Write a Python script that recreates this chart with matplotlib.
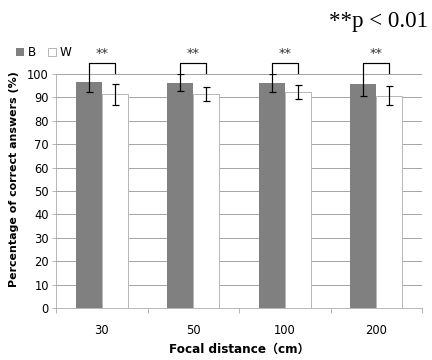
import matplotlib.pyplot as plt
import numpy as np

plt.rcParams['font.family'] = ['DejaVu Sans', 'Noto Sans CJK JP']

distances = ['30', '50', '100', '200']
b_mean = [96.6, 96.3, 96.1, 95.8]
b_err = [4.3, 3.7, 3.8, 5.1]
w_mean = [91.4, 91.4, 92.4, 90.7]
w_err = [4.5, 3.05, 3.0, 4.1]

fig = plt.figure(figsize=(6, 5), dpi=72)
ax = fig.add_axes([0.1296, 0.1444, 0.8474, 0.65])

x = np.arange(len(distances))
w = 0.284
grid_c = '#a6a6a6'

ax.set_axisbelow(True)
ax.grid(axis='y', color=grid_c, linewidth=1)

bb = ax.bar(x - w / 2, b_mean, w, color='#808080', label='B')
bw = ax.bar(x + w / 2, w_mean, w, color='white', edgecolor='#b8b8b8', linewidth=1, label='W')
ax.errorbar(x - w / 2, b_mean, yerr=b_err, fmt='none', ecolor='black', elinewidth=1.2, capsize=3.5, capthick=1.2)
ax.errorbar(x + w / 2, w_mean, yerr=w_err, fmt='none', ecolor='black', elinewidth=1.2, capsize=3.5, capthick=1.2)

# significance brackets
for i in x:
    xl, xr = i - w / 2, i + w / 2
    ax.plot([xl, xl, xr, xr], [100.3, 104.6, 104.6, 100.3], color='black', lw=1.2, clip_on=False)
    ax.text(i, 108.6, '**', ha='center', va='center', fontsize=13, color='#333333')

ax.set_ylim(0, 100)
ax.set_xlim(-0.5, 3.5)
ax.set_yticks(range(0, 101, 10))
ax.set_xticks(np.arange(-0.5, 4, 1))
ax.set_xticklabels([])
ax.set_xticks(x, minor=True)
ax.set_xticklabels(distances, minor=True, fontsize=11.5)
ax.tick_params(axis='x', which='major', length=5, color=grid_c, direction='out')
ax.tick_params(axis='x', which='minor', length=0, pad=16)
ax.tick_params(axis='y', length=4, color=grid_c, labelsize=11.5, pad=3)

for s in ['top', 'right']:
    ax.spines[s].set_visible(False)
for s in ['left', 'bottom']:
    ax.spines[s].set_color(grid_c)

ax.set_ylabel('Percentage of correct answers (%)', fontsize=11, fontweight='bold')
ax.yaxis.set_label_coords(-0.101, 0.55)
ax.set_xlabel('Focal distance（cm）', fontsize=12, fontweight='bold')
ax.xaxis.set_label_coords(0.5, -0.15)

fig.legend(handles=[bb, bw], labels=['B', 'W'], loc='center left', bbox_to_anchor=(0.025, 0.853),
           ncol=2, frameon=False, fontsize=12, handlelength=0.7, handleheight=0.7,
           handletextpad=0.3, columnspacing=1.0, borderaxespad=0)

fig.text(0.99, 0.94, '**p < 0.01', ha='right', va='center', fontsize=23, family='Liberation Serif')

fig.savefig('out.png', dpi=72)
